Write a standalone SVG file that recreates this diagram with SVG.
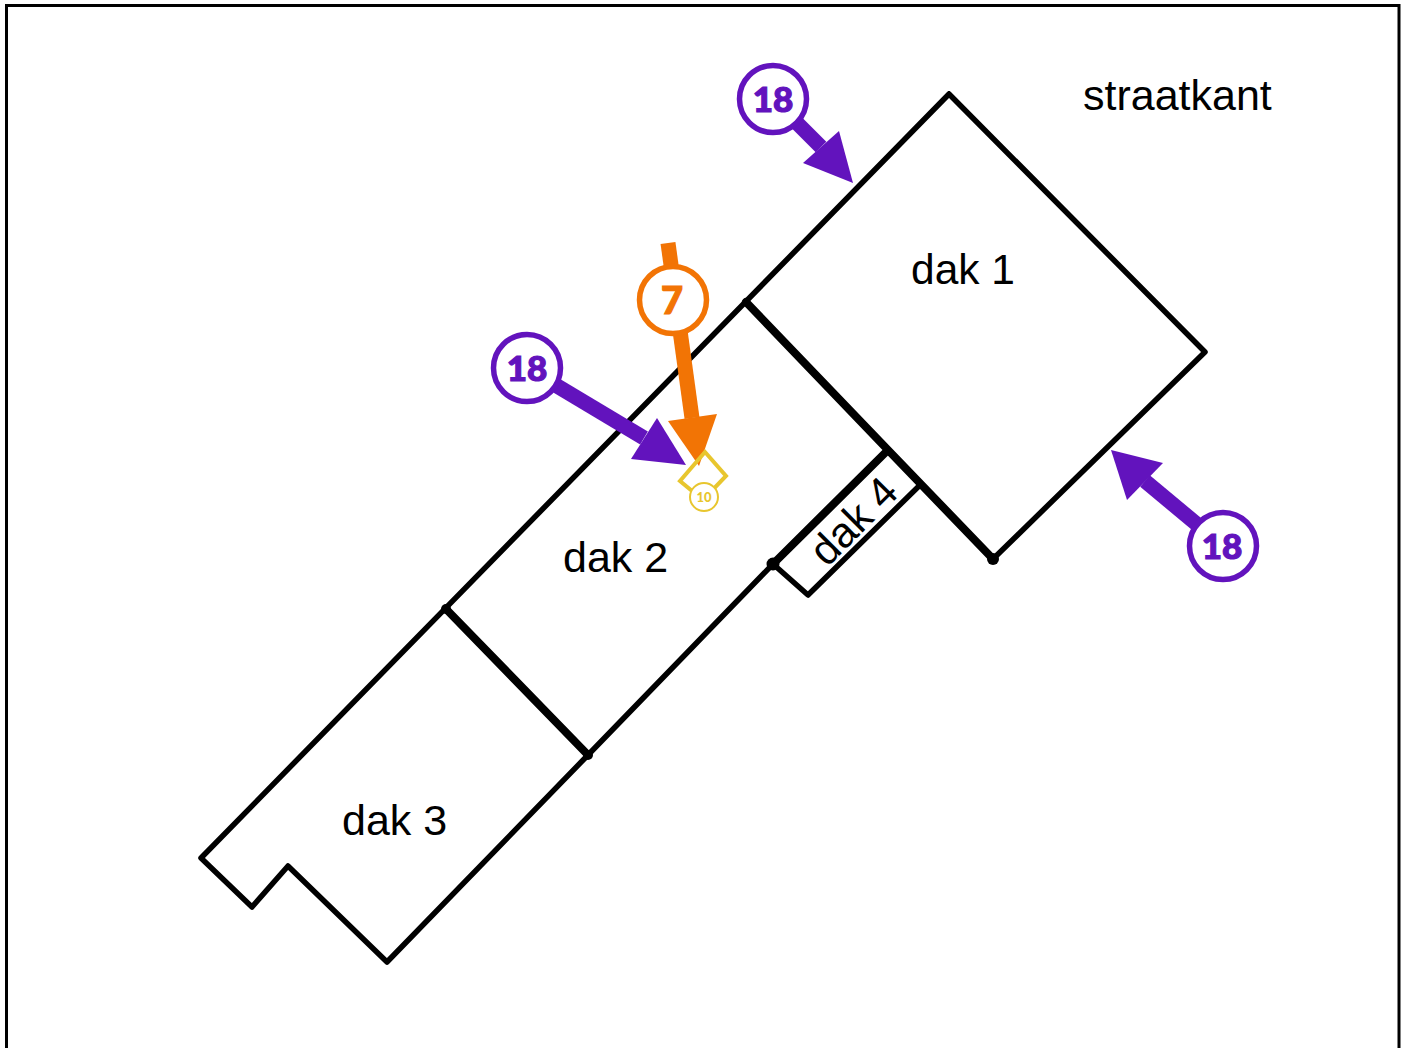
<svg xmlns="http://www.w3.org/2000/svg" width="1405" height="1048" viewBox="0 0 1405 1048">
<style>
.frame{fill:#fff;stroke:#000;stroke-width:3}
.wall{fill:none;stroke:#000;stroke-width:5.500;stroke-linejoin:round;stroke-linecap:round}
.thick{fill:none;stroke:#000;stroke-width:8;stroke-linecap:round}
.label{font-family:"Liberation Sans",Arial,sans-serif;font-size:43px;fill:#000}
.num{font-family:Lato,"Noto Sans",sans-serif;font-weight:900;font-size:35px;text-anchor:middle;stroke-width:1.200}
.bubble{fill:#fff;stroke-width:5.500}
.p{fill:#6213bd}
.shaft{fill:none;stroke-width:15}
</style>
<rect class="frame" x="6.500" y="5.500" width="1392.500" height="1060"/>
<g id="roof-plan">
<path class="wall" d="M949 94L1205 352L993 559M949 94L201 858L252 907L288 866L387 962L588 755L773 564L808 595L918 487"/>
<path class="thick" d="M746 302L888 450L993 559M888 450L773 564M446 609L588 755"/>
<circle cx="993" cy="559" r="6"/><circle cx="773" cy="564" r="6.500"/><circle cx="588" cy="755" r="5"/><circle cx="446" cy="609" r="5"/>
</g>
<g id="dak-labels">
<text class="label" x="1083" y="110">straatkant</text>
<text class="label" x="911" y="284" style="font-size:42.500px">dak 1</text>
<text class="label" x="563" y="572">dak 2</text>
<text class="label" x="342" y="835">dak 3</text>
<text class="label" transform="translate(827 568) rotate(-45)" style="font-size:42.500px">dak 4</text>
</g>
<g id="connectors">
<path class="shaft" stroke="#6213bd" d="M773 99L821 147"/>
<polygon class="p" points="853,183 803,163 839,131"/>
<path class="shaft" stroke="#6213bd" d="M527 368L644 438"/>
<polygon class="p" points="686,465 631,459 657,418"/>
<path class="shaft" stroke="#6213bd" d="M1223 546L1145 481"/>
<polygon class="p" points="1111,450 1163,463 1127,500"/>
<polygon points="699,466 668,421 717,414" fill="#f27405" stroke="#fff" stroke-width="5" paint-order="stroke"/>
<path class="shaft" stroke="#f27405" d="M668 243L692 418"/>
</g>
<g id="marker-10">
<polygon points="705,452 726,476 703,500 680,481" fill="none" stroke="#e8c62e" stroke-width="4"/>
<circle cx="704" cy="497" r="14" fill="#fff" stroke="#e8c62e" stroke-width="2"/>
<text x="704" y="502" style="font-family:Lato,sans-serif;font-weight:900;font-size:13px;text-anchor:middle" fill="#e8c62e">10</text>
</g>
<g id="bubble-18a"><circle class="bubble" cx="773" cy="99" r="33.500" stroke="#6213bd"/><text class="num" x="773" y="112" fill="#6213bd" stroke="#6213bd">18</text></g>
<g id="bubble-18b"><circle class="bubble" cx="527" cy="368" r="33.500" stroke="#6213bd"/><text class="num" x="527" y="381" fill="#6213bd" stroke="#6213bd">18</text></g>
<g id="bubble-18c"><circle class="bubble" cx="1223" cy="546" r="33.500" stroke="#6213bd"/><text class="num" x="1222" y="559" fill="#6213bd" stroke="#6213bd">18</text></g>
<g id="bubble-7"><circle class="bubble" cx="673" cy="300" r="33.500" stroke="#f27405"/><text class="num" x="672" y="314" fill="#f27405" stroke="#f27405" style="font-size:38px">7</text></g>
</svg>
